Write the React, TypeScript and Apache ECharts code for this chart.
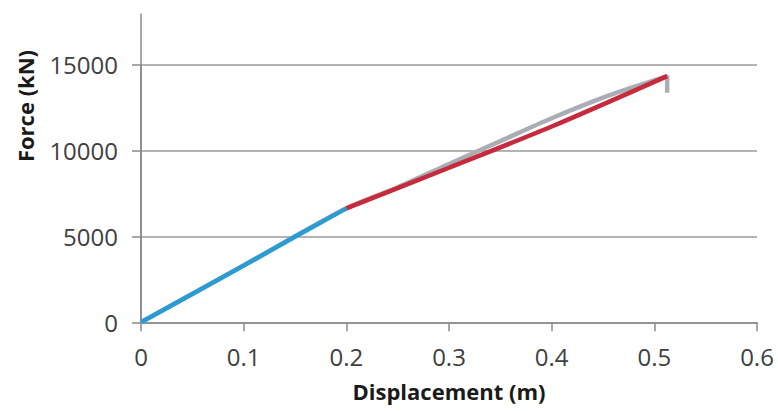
import React, { useEffect, useRef } from "react";
import * as echarts from "echarts";

const xTicks = [0, 0.1, 0.2, 0.3, 0.4, 0.5, 0.6];
const yTicks = [0, 5000, 10000, 15000];

const blueX = [0, 0.05, 0.1, 0.15, 0.2];
const blueY = [0, 1650, 3300, 4980, 6635];

const redX = [0.2, 0.3, 0.4, 0.5125];
const redY = [6635, 9000, 11400, 14336];

const grayX = [0, 0.1, 0.2, 0.25, 0.3, 0.35, 0.4, 0.45, 0.49, 0.5125, 0.5125];
const grayY = [0, 3320, 6640, 7860, 9220, 10550, 11880, 13080, 13900, 14336, 13370];

const xName = "Displacement (m)";
const yName = "Force (kN)";

const zip = (xs: number[], ys: number[]) => xs.map((x, i) => [x, ys[i]]);

export default function App() {
  const ref = useRef<HTMLDivElement>(null);
  useEffect(() => {
    if (!ref.current) return;
    const chart = echarts.init(ref.current, undefined, { renderer: "svg" });
    const font = "'Open Sans', sans-serif";
    const axisColor = "#8a8a8a";
    chart.setOption({
      animation: false,
      backgroundColor: "#ffffff",
      grid: [
        { left: 141, right: 21, top: 64.7, bottom: 88.7 },
        { left: 141, right: 21, top: 14, bottom: 88.7 },
      ],
      xAxis: [
        {
          type: "value",
          gridIndex: 0,
          min: xTicks[0],
          max: xTicks[xTicks.length - 1],
          interval: 0.1,
          axisLine: { show: true, lineStyle: { color: axisColor, width: 1.5 } },
          axisTick: { show: true, inside: false, length: 9, lineStyle: { color: axisColor, width: 1.5 } },
          splitLine: { show: false },
          axisLabel: {
            color: "#404040",
            fontSize: 24,
            fontFamily: font,
            margin: 22,
            formatter: (v: number) => String(Math.round(v * 10) / 10),
          },
          name: xName,
          nameLocation: "middle",
          nameGap: 58,
          nameTextStyle: { color: "#1a1a1a", fontSize: 22, fontWeight: "bold", fontFamily: font },
        },
        { type: "value", gridIndex: 1, min: 0, max: 0.6, show: false },
      ],
      yAxis: [
        {
          type: "value",
          gridIndex: 0,
          min: yTicks[0],
          max: yTicks[yTicks.length - 1],
          interval: 5000,
          axisLine: { show: true, lineStyle: { color: axisColor, width: 1.5 } },
          axisTick: { show: true, inside: false, length: 9, lineStyle: { color: axisColor, width: 1.5 } },
          splitLine: { show: true, lineStyle: { color: "#9a9a9a", width: 1.5 } },
          axisLabel: {
            color: "#404040",
            fontSize: 24,
            fontFamily: font,
            margin: 23,
            formatter: (v: number) => String(v),
          },
        },
        {
          type: "value",
          gridIndex: 1,
          min: 0,
          max: 18000,
          axisLine: { show: true, lineStyle: { color: axisColor, width: 1.5 } },
          axisTick: { show: false },
          axisLabel: { show: false },
          splitLine: { show: false },
        },
      ],
      graphic: [
        {
          type: "text",
          x: 25,
          y: 106,
          rotation: Math.PI / 2,
          style: {
            text: yName,
            fill: "#1a1a1a",
            font: `bold 22px ${font}`,
            textAlign: "center",
            textVerticalAlign: "middle",
          },
        },
      ],
      series: [
        {
          type: "line",
          xAxisIndex: 0,
          yAxisIndex: 0,
          data: zip(grayX, grayY),
          showSymbol: false,
          smooth: 0.3,
          lineStyle: { color: "#aaaeb4", width: 4.5 },
          z: 2,
        },
        {
          type: "line",
          xAxisIndex: 0,
          yAxisIndex: 0,
          data: zip(redX, redY),
          showSymbol: false,
          smooth: 0.3,
          lineStyle: { color: "#c62a3c", width: 4.5 },
          z: 3,
        },
        {
          type: "line",
          xAxisIndex: 0,
          yAxisIndex: 0,
          data: zip(blueX, blueY),
          showSymbol: false,
          lineStyle: { color: "#2b9bd3", width: 4.5 },
          z: 4,
        },
      ],
    });
    return () => chart.dispose();
  }, []);
  return (
    <div
      ref={ref}
      style={{ position: "fixed", left: 0, top: 0, width: 778, height: 411 }}
    />
  );
}
